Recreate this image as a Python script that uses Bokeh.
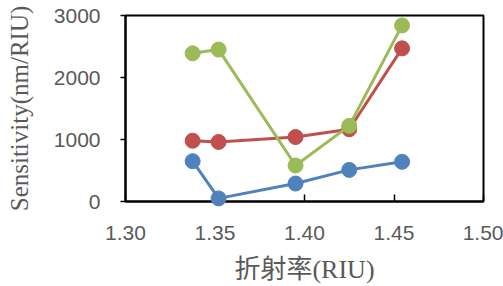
from bokeh.plotting import figure
from bokeh.models import FixedTicker, NumeralTickFormatter, Range1d
from bokeh.embed import file_html
from bokeh.resources import INLINE

# Data
ri_blue = [1.3375, 1.352, 1.395, 1.425, 1.4545]
s_blue = [650, 50, 290, 510, 640]
ri_red = [1.3375, 1.352, 1.395, 1.425, 1.4545]
s_red = [980, 960, 1040, 1165, 2470]
ri_green = [1.3375, 1.352, 1.395, 1.425, 1.4545]
s_green = [2390, 2450, 580, 1220, 2840]

x_ticks = [1.30, 1.35, 1.40, 1.45, 1.50]
y_ticks = [0, 1000, 2000, 3000]

colors = ["#4F81BD", "#C0504D", "#9BBB59"]

p = figure(width=503, height=286, output_backend="svg", toolbar_location=None,
           x_range=Range1d(1.30, 1.50), y_range=Range1d(0, 3000),
           min_border_left=125, min_border_right=20, min_border_top=15, min_border_bottom=83)

p.grid.visible = False
p.outline_line_color = "black"
p.outline_line_width = 2
p.background_fill_color = "white"
p.border_fill_color = "white"

for xs, ys, c in [(ri_blue, s_blue, colors[0]), (ri_red, s_red, colors[1]), (ri_green, s_green, colors[2])]:
    p.line(xs, ys, line_color=c, line_width=3, level="overlay")
    p.scatter(xs, ys, size=15, fill_color=c, line_color=c, level="overlay")

xa = p.xaxis[0]
xa.ticker = FixedTicker(ticks=x_ticks)
xa.formatter = NumeralTickFormatter(format="0.00")
xa.major_tick_in = 7
xa.major_tick_out = 0
xa.minor_tick_line_color = None
xa.axis_line_color = "black"
xa.axis_line_width = 2
xa.major_tick_line_color = "black"
xa.major_tick_line_width = 1.5
xa.major_label_text_font = "Liberation Sans"
xa.major_label_text_font_size = "21px"
xa.major_label_text_color = "#595959"
xa.major_label_standoff = 24
xa.axis_label = "折射率(RIU)"
xa.axis_label_text_font = "Liberation Serif, Noto Sans CJK TC"
xa.axis_label_text_font_style = "normal"
xa.axis_label_text_font_size = "26px"
xa.axis_label_text_color = "#595959"
xa.axis_label_standoff = 12

ya = p.yaxis[0]
ya.ticker = FixedTicker(ticks=y_ticks)
ya.major_tick_in = 0
ya.major_tick_out = 5
ya.minor_tick_line_color = None
ya.axis_line_color = "black"
ya.axis_line_width = 2
ya.major_tick_line_color = "black"
ya.major_tick_line_width = 1.5
ya.major_label_text_font = "Liberation Sans"
ya.major_label_text_font_size = "21px"
ya.major_label_text_color = "#595959"
ya.major_label_standoff = 20
ya.axis_label = "Sensitivity(nm/RIU)"
ya.axis_label_text_font = "Liberation Serif"
ya.axis_label_text_font_style = "normal"
ya.axis_label_text_font_size = "25px"
ya.axis_label_text_color = "#595959"
ya.axis_label_standoff = 18

open("out.html", "w").write(file_html(p, INLINE))
